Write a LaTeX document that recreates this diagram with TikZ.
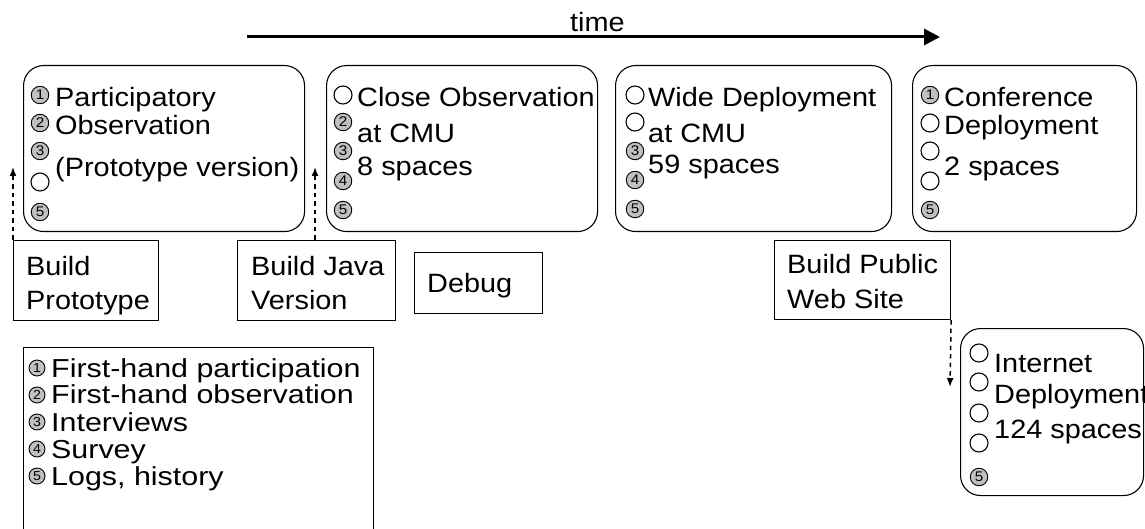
\documentclass[tikz,border=0pt]{standalone}
\usepackage{fontspec}
\setmainfont[FakeStretch=1.09]{Liberation Sans}
\newfontfamily\legfont[FakeStretch=1.17]{Liberation Sans}
\usetikzlibrary{arrows.meta}
\definecolor{mk}{RGB}{192,192,192}
\begin{document}
\begin{tikzpicture}[
  x=1pt, y=-1pt,
  phase/.style={draw, line width=1.1pt, rounded corners=20pt, anchor=north west, inner sep=0pt},
  task/.style={draw, line width=1.1pt, anchor=north west, inner sep=0pt},
  num/.style={circle, draw, line width=0.9pt, fill=mk, inner sep=0pt, minimum size=17.5pt, font=\fontsize{14}{14}\selectfont},
  emp/.style={circle, draw, line width=1.1pt, fill=white, inner sep=0pt, minimum size=18pt},
  lnum/.style={num, minimum size=16pt, font=\fontsize{13}{13}\selectfont},
  txt/.style={anchor=base west, inner sep=0pt, font=\fontsize{26.5}{27}\selectfont},
  ltxt/.style={anchor=base west, inner sep=0pt, font=\legfont\fontsize{26}{27}\selectfont},
  dasharrow/.style={dash pattern=on 4.5pt off 4pt, line width=1.5pt, -{Latex[length=9pt,width=7pt]}},
]
\useasboundingbox[fill=white] (0,0) rectangle (1145,529);

% time arrow
\coordinate (t0) at (247,37);
\coordinate (t1) at (940,37);
\draw[line width=3pt, -{Triangle[length=16pt,width=16pt]}] (t0) -- (t1);
\node[txt] (time) at (570,32) {time};

% phase boxes
\node[phase, minimum width=281pt, minimum height=166pt] (p1) at (23,65) {};
\node[phase, minimum width=271pt, minimum height=166pt] (p2) at (326,65) {};
\node[phase, minimum width=276pt, minimum height=166pt] (p3) at (615,65) {};
\node[phase, minimum width=224pt, minimum height=166pt] (p4) at (912,65) {};
\node[phase, minimum width=183pt, minimum height=167pt] (p5) at (960,328) {};

% box 1
\node[num] (p1a) at (40,95) {1};
\node[num] (p1b) at (40,123) {2};
\node[num] (p1c) at (40,151) {3};
\node[emp] (p1d) at (40,182) {};
\node[num] (p1e) at (40,212) {5};
\node[txt] (p1t1) at (55,107) {Participatory};
\node[txt] (p1t2) at (55,135) {Observation};
\node[txt] (p1t3) at (55,177) {(Prototype version)};

% box 2
\node[emp] (p2a) at (343,95) {};
\node[num] (p2b) at (343,122) {2};
\node[num] (p2c) at (343,151) {3};
\node[num] (p2d) at (343,181) {4};
\node[num] (p2e) at (343,210) {5};
\node[txt] (p2t1) at (357,107) {Close Observation};
\node[txt] (p2t2) at (357,143) {at CMU};
\node[txt] (p2t3) at (357,176) {8 spaces};

% box 3
\node[emp] (p3a) at (635,95) {};
\node[emp] (p3b) at (635,122) {};
\node[num] (p3c) at (635,151) {3};
\node[num] (p3d) at (635,180) {4};
\node[num] (p3e) at (635,209) {5};
\node[txt] (p3t1) at (648,107) {Wide Deployment};
\node[txt] (p3t2) at (648,143) {at CMU};
\node[txt] (p3t3) at (648,174) {59 spaces};

% box 4
\node[num] (p4a) at (930,95) {1};
\node[emp] (p4b) at (930,123) {};
\node[emp] (p4c) at (930,151) {};
\node[emp] (p4d) at (930,181) {};
\node[num] (p4e) at (930,210) {5};
\node[txt] (p4t1) at (944,107) {Conference};
\node[txt] (p4t2) at (944,135) {Deployment};
\node[txt] (p4t3) at (944,176) {2 spaces};

% box 5
\node[emp] (p5a) at (979,353) {};
\node[emp] (p5b) at (979,382) {};
\node[emp] (p5c) at (979,413) {};
\node[emp] (p5d) at (979,443) {};
\node[num] (p5e) at (979,477) {5};
\node[txt] (p5t1) at (994,372) {Internet};
\node[txt] (p5t2) at (994,403) {Deployment};
\node[txt] (p5t3) at (994,438) {124 spaces};

% task boxes
\node[task, minimum width=145pt, minimum height=80pt] (bp) at (13,240) {};
\node[txt] (bpt1) at (26,276) {Build};
\node[txt] (bpt2) at (26,309) {Prototype};
\node[task, minimum width=158pt, minimum height=80pt] (bj) at (237,240) {};
\node[txt] (bjt1) at (251,276) {Build Java};
\node[txt] (bjt2) at (251,309) {Version};
\node[task, minimum width=128pt, minimum height=61pt] (bd) at (414,252) {};
\node[txt] (bdt) at (427,292) {Debug};
\node[task, minimum width=176pt, minimum height=79pt] (bw) at (774,240) {};
\node[txt] (bwt1) at (787,273) {Build Public};
\node[txt] (bwt2) at (787,308) {Web Site};

% dashed arrows
\coordinate (a1) at (13,167);
\coordinate (a2) at (315,167);
\coordinate (a3) at (950,387);
\draw[dasharrow] (bp.north west) -- (a1);
\draw[dasharrow] (bj.north -| a2) -- (a2);
\draw[dasharrow] (bw.south east) -- (a3);

% legend
\node[task, minimum width=350pt, minimum height=200pt] (leg) at (23,347) {};
\node[lnum] (l1) at (37,368) {1};
\node[lnum] (l2) at (37,395) {2};
\node[lnum] (l3) at (37,422) {3};
\node[lnum] (l4) at (37,449) {4};
\node[lnum] (l5) at (37,476) {5};
\node[ltxt] (lt1) at (51,377) {First-hand participation};
\node[ltxt] (lt2) at (51,403) {First-hand observation};
\node[ltxt] (lt3) at (51,431) {Interviews};
\node[ltxt] (lt4) at (51,458) {Survey};
\node[ltxt] (lt5) at (51,485) {Logs, history};
\end{tikzpicture}
\end{document}
